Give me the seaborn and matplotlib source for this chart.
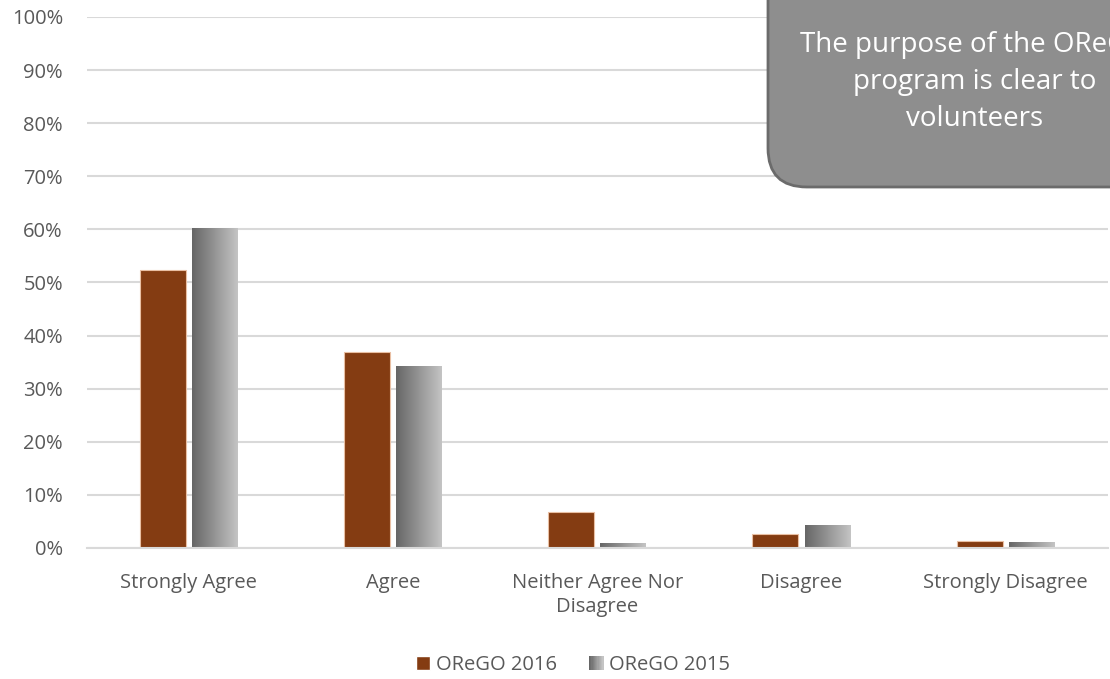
import seaborn as sns
import matplotlib.pyplot as plt
from matplotlib.patches import FancyBboxPatch, Rectangle
from matplotlib.legend_handler import HandlerBase
import pandas as pd
import numpy as np

categories = ['Strongly Agree', 'Agree', 'Neither Agree Nor\nDisagree', 'Disagree', 'Strongly Disagree']
series = ['OReGO 2016', 'OReGO 2015']
vals_2016 = [52.4, 36.9, 6.8, 2.6, 1.3]
vals_2015 = [60.1, 34.1, 0.8, 4.2, 1.0]

df = pd.DataFrame({
    'cat': categories * 2,
    'series': [series[0]] * 5 + [series[1]] * 5,
    'val': vals_2016 + vals_2015,
})

sns.set_style('white')
plt.rcParams['font.family'] = ['Open Sans', 'DejaVu Sans']
txt = '#595959'
cmap = sns.blend_palette(['#666666', '#c4c4c4'], as_cmap=True)


class GradientHandler(HandlerBase):
    # draws the legend key as a row of thin strips going dark -> light
    def create_artists(self, legend, orig_handle, xdescent, ydescent, width, height, fontsize, trans):
        n = 12
        arts = []
        for i in range(n):
            r = Rectangle((-xdescent + width * i / n, -ydescent), width / n + 0.3, height,
                          facecolor=cmap(i / (n - 1)), edgecolor='none', transform=trans)
            arts.append(r)
        return arts


fig = plt.figure(figsize=(11.1, 6.79), dpi=100)
ax = fig.add_axes([0.078, 0.193, 0.92, 0.782])

sns.barplot(data=df, x='cat', y='val', hue='series', palette=['#843C12', '#9a9a9a'],
            width=0.51, gap=0.12, saturation=1, ax=ax, legend=True)

# 2016 bars: thin light edge
for p in ax.containers[0]:
    p.set_edgecolor('#e9bfa3')
    p.set_linewidth(0.8)

# 2015 bars: horizontal grey gradient
grad = np.linspace(0, 1, 256).reshape(1, -1)
for p in ax.containers[1]:
    x0, y0 = p.get_x(), p.get_y()
    w, h = p.get_width(), p.get_height()
    ax.imshow(grad, cmap=cmap, aspect='auto', extent=[x0, x0 + w, y0, y0 + h], zorder=2)
    p.set_facecolor('none')
    p.set_edgecolor('none')

ax.set_xlim(-0.5, 4.5)
ax.set_ylim(0, 100)
ax.set_yticks(np.arange(0, 101, 10))
ax.set_yticklabels([f'{v}%' for v in range(0, 101, 10)])
ax.yaxis.grid(True, color='#d9d9d9', linewidth=1.5)
ax.set_axisbelow(True)
for s in ['top', 'right', 'left']:
    ax.spines[s].set_visible(False)
ax.spines['bottom'].set_color('#d9d9d9')
ax.spines['bottom'].set_linewidth(1.5)
ax.tick_params(axis='both', length=0, labelsize=14.5, colors=txt)
ax.tick_params(axis='x', pad=18)
ax.tick_params(axis='y', pad=17)
for lab in ax.get_xticklabels():
    lab.set_linespacing(1.3)
ax.set_xlabel('')
ax.set_ylabel('')

handles, labels = ax.get_legend_handles_labels()
ax.legend(handles, labels, loc='center', bbox_to_anchor=(573 / 1110, 1 - 665 / 679),
          bbox_transform=fig.transFigure, ncol=2, frameon=False, fontsize=14.5,
          labelcolor=txt, handlelength=0.7, handleheight=0.7, handletextpad=0.3,
          columnspacing=1.6, handler_map={handles[1]: GradientHandler()})

# title callout box
box = FancyBboxPatch((768 / 1110, 1 - 187 / 679), 0.5, 0.5,
                     boxstyle='round,pad=0,rounding_size=0.035',
                     transform=fig.transFigure, facecolor='#8e8e8e', edgecolor='#6b6b6b',
                     linewidth=2, zorder=5, mutation_aspect=1110 / 679)
fig.patches.append(box)
for i, line in enumerate(['The purpose of the OReGO', 'program is clear to', 'volunteers']):
    fig.text(975 / 1110, 1 - (45 + 37 * i) / 679, line, ha='center', va='center',
             color='white', fontsize=20, zorder=6)

fig.savefig('out.png', dpi=100)
